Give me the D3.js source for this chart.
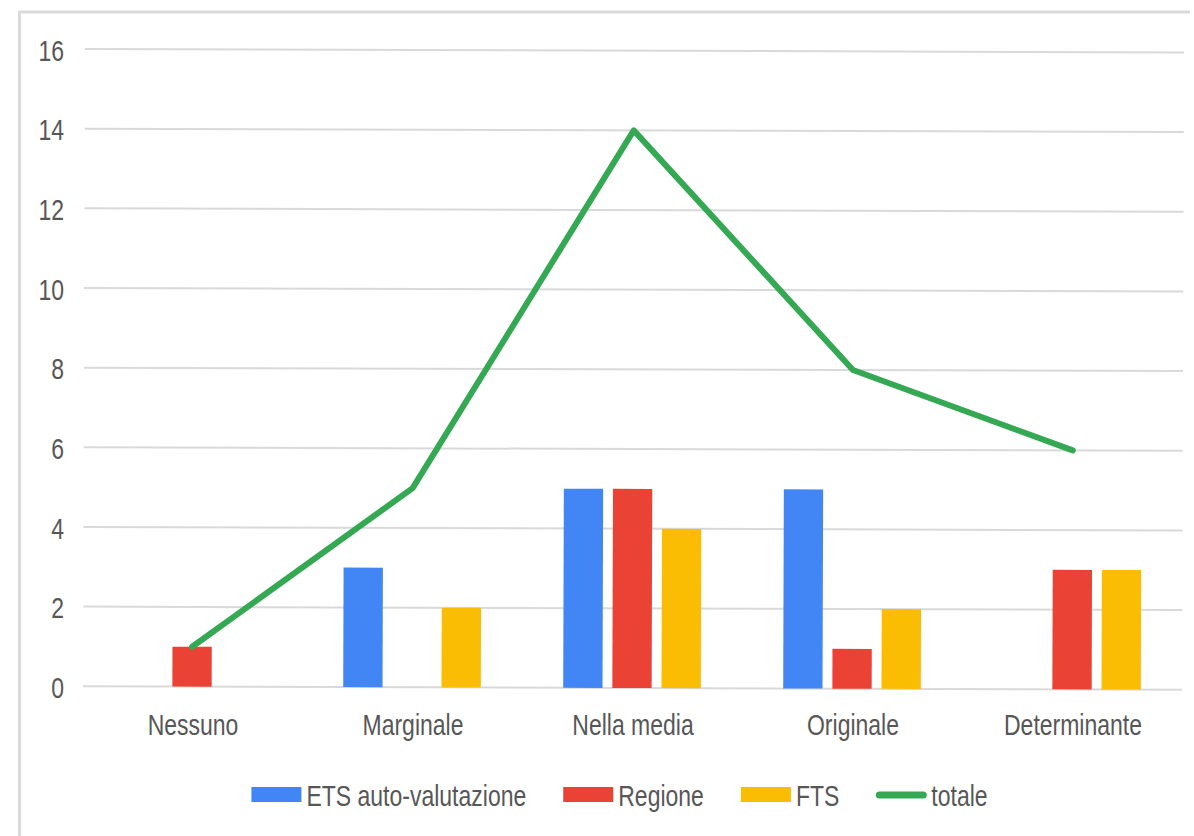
<!DOCTYPE html>
<html>
<head>
<meta charset="utf-8">
<script src="https://cdn.jsdelivr.net/npm/d3@7"></script>
<style>
  html, body { margin: 0; padding: 0; background: #ffffff; }
  svg { display: block; }
  text { font-family: "Liberation Sans", Arial, sans-serif; fill: #575757; }
</style>
</head>
<body>
<svg id="chart" width="1194" height="836"></svg>
<script>
const categories = ["Nessuno", "Marginale", "Nella media", "Originale", "Determinante"];
const seriesNames = ["ETS auto-valutazione", "Regione", "FTS"];
const etsValues = [0, 3, 5, 5, 0];
const regioneValues = [1, 0, 5, 1, 3];
const ftsValues = [0, 2, 4, 2, 3];
const totaleValues = [1, 5, 14, 8, 6];
const yTicks = [0, 2, 4, 6, 8, 10, 12, 14, 16];
const lineName = "totale";

const colors = { "ETS auto-valutazione": "#4285f4", "Regione": "#ea4335", "FTS": "#fbbc04", "totale": "#34a853" };
const seriesValues = { "ETS auto-valutazione": etsValues, "Regione": regioneValues, "FTS": ftsValues };

const svg = d3.select("#chart");
const W = 1194, H = 836;
const mLeft = 83, mRight = 1183, mTop = 50.7, mBottom = 688;
const textScaleY = 1.32;
const fontSize = 23;

// frame (top and left edges)
svg.append("line").attr("x1", 19.5).attr("x2", 1190).attr("y1", 12).attr("y2", 12)
  .attr("stroke", "#d9d9d9").attr("stroke-width", 3);
svg.append("line").attr("x1", 19.5).attr("x2", 19.5).attr("y1", 11).attr("y2", H)
  .attr("stroke", "#d9d9d9").attr("stroke-width", 3);

const y = d3.scaleLinear().domain([0, 16]).range([mBottom, mTop]);
const x0 = d3.scaleBand().domain(categories).range([mLeft, mRight]).paddingInner(0.33).paddingOuter(0.165);
const x1 = d3.scaleBand().domain(seriesNames).range([0, x0.bandwidth()]).paddingInner(0.2).paddingOuter(0.1);

const plot = svg.append("g").attr("transform", `rotate(0.18, ${(mLeft + mRight) / 2}, ${(mTop + mBottom) / 2})`);

// gridlines
plot.append("g").selectAll("line").data(yTicks).join("line")
  .attr("x1", mLeft + 1).attr("x2", mRight)
  .attr("y1", d => y(d)).attr("y2", d => y(d))
  .attr("stroke", "#d9d9d9").attr("stroke-width", 2);

// bars
const groups = plot.append("g").selectAll("g").data(categories).join("g")
  .attr("transform", d => `translate(${x0(d)},0)`);
groups.selectAll("rect")
  .data((c, i) => seriesNames.map(s => ({ s, v: seriesValues[s][i] })).filter(d => d.v > 0))
  .join("rect")
  .attr("x", d => x1(d.s))
  .attr("width", x1.bandwidth())
  .attr("y", d => y(d.v))
  .attr("height", d => y(0) - y(d.v))
  .attr("fill", d => colors[d.s]);

// line
const line = d3.line().x((d, i) => x0(categories[i]) + x0.bandwidth() / 2).y(d => y(d));
plot.append("path").datum(totaleValues).attr("d", line)
  .attr("fill", "none").attr("stroke", colors.totale).attr("stroke-width", 6)
  .attr("stroke-linejoin", "round").attr("stroke-linecap", "round");

function addText(g, x, yy, str, anchor) {
  return g.append("text")
    .attr("transform", `translate(${x},${yy}) scale(1,${textScaleY})`)
    .attr("dy", "0.36em")
    .attr("text-anchor", anchor)
    .attr("font-size", fontSize)
    .text(str);
}

// y axis labels
const yAxisG = svg.append("g");
yTicks.forEach(t => addText(yAxisG, 64, y(t) - 1, String(t), "end"));

// x axis labels
const xAxisG = svg.append("g");
categories.forEach(c => addText(xAxisG, x0(c) + x0.bandwidth() / 2, 724, c, "middle"));

// legend
const legendItems = seriesNames.concat([lineName]);
const legend = svg.append("g");
const swW = 50, gapAfterSw = 5, gapAfterText = 37, legendY = 795;
let cursor = 0;
legendItems.forEach(name => {
  const g = legend.append("g");
  if (name === lineName) {
    g.append("line").attr("x1", cursor + 3).attr("x2", cursor + swW - 3)
      .attr("y1", legendY).attr("y2", legendY)
      .attr("stroke", colors[name]).attr("stroke-width", 7).attr("stroke-linecap", "round");
  } else {
    g.append("rect").attr("x", cursor).attr("y", legendY - 8).attr("width", swW).attr("height", 15)
      .attr("fill", colors[name]);
  }
  const t = addText(g, cursor + swW + gapAfterSw, legendY, name, "start");
  const tw = t.node().getComputedTextLength();
  cursor += swW + gapAfterSw + tw + gapAfterText;
});
const totalW = cursor - gapAfterText;
legend.attr("transform", `translate(${619.5 - totalW / 2},0)`);
</script>
</body>
</html>
